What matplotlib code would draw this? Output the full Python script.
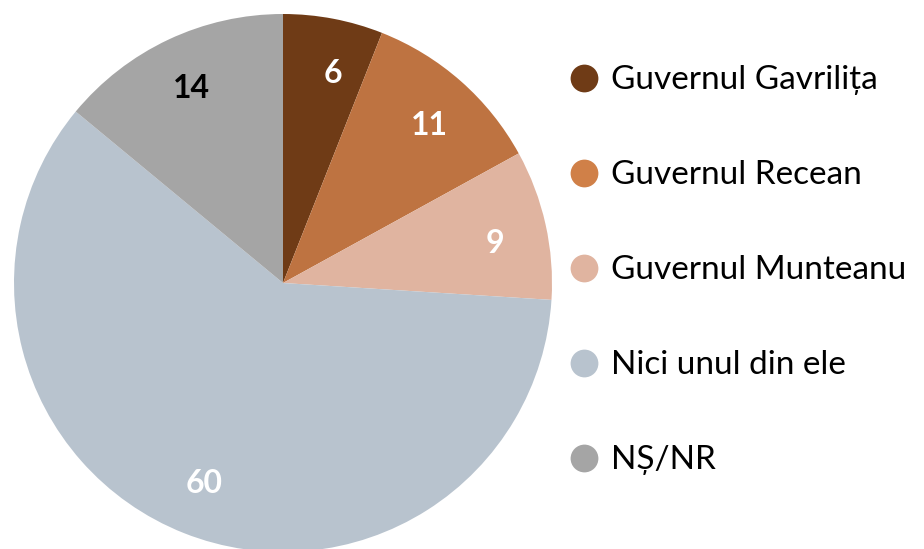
import matplotlib
matplotlib.use("Agg")
import matplotlib.pyplot as plt
from matplotlib.lines import Line2D
import numpy as np

categories = ["Guvernul Gavrilița", "Guvernul Recean", "Guvernul Munteanu",
              "Nici unul din ele", "NȘ/NR"]
values = [6, 11, 9, 60, 14]
slice_colors = ["#6F3B16", "#BE7341", "#E0B4A0", "#B8C3CE", "#A5A5A5"]
legend_colors = ["#6F3B16", "#D08048", "#E0B4A0", "#B8C3CE", "#A5A5A5"]
label_colors = ["white", "white", "white", "white", "black"]
label_angle_shift = [-2.5, -1.5, -2, 0, 0]

plt.rcParams['font.family'] = ['Lato', 'DejaVu Sans']

W, H = 924, 549
fig = plt.figure(figsize=(W / 100, H / 100), dpi=100)
ax = fig.add_axes([0, 0, 1, 1])

cx, cy, r = 283, H - 283, 269
wedges, _ = ax.pie(values, colors=slice_colors, startangle=90, counterclock=False,
                   center=(cx, cy), radius=r, frame=True,
                   wedgeprops=dict(linewidth=0))
ax.set_xlim(0, W)
ax.set_ylim(0, H)
ax.set_aspect('equal')
ax.axis('off')

for w, v, c, sh in zip(wedges, values, label_colors, label_angle_shift):
    ang = np.deg2rad((w.theta1 + w.theta2) / 2 + sh)
    ax.text(cx + 0.8 * r * np.cos(ang), cy + 0.8 * r * np.sin(ang), str(v),
            ha='center', va='center', fontsize=23, fontweight='bold', color=c)

handles = [Line2D([], [], marker='o', linestyle='none', markersize=20,
                  markerfacecolor=col, markeredgewidth=0) for col in legend_colors]
fig.legend(handles, categories, loc='upper left', bbox_to_anchor=(569 / W, 1 - 65.5 / H),
           frameon=False, fontsize=24, labelspacing=1.95, handlelength=0.9,
           handletextpad=0.35, borderpad=0, borderaxespad=0)

fig.savefig("out.png", dpi=100)
